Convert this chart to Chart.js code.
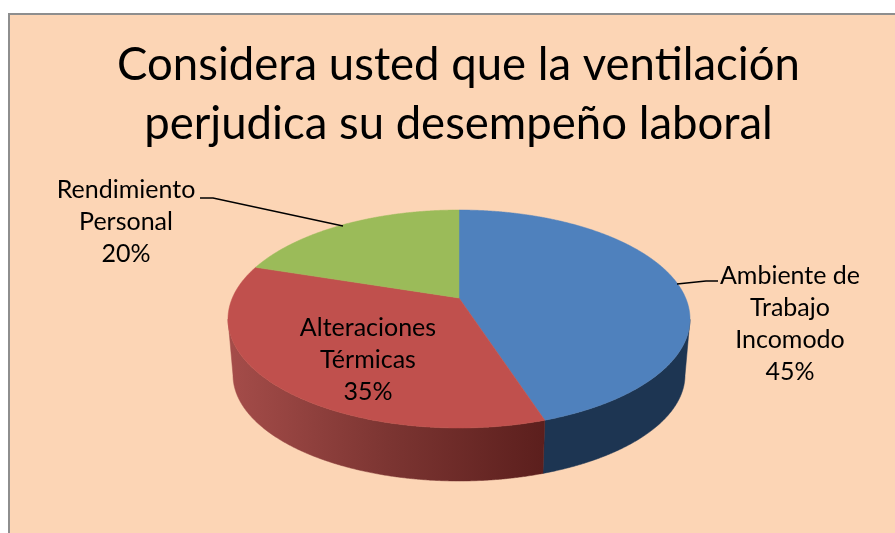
<!DOCTYPE html>
<html><head><meta charset="utf-8">
<style>html,body{margin:0;padding:0;background:#fff}canvas{display:block}</style>
<script src="https://cdn.jsdelivr.net/npm/chart.js@4/dist/chart.umd.js"></script>
</head><body>
<div style="width:895px;height:533px;position:relative"><canvas id="c"></canvas></div>
<script>
const categories = ['Ambiente de Trabajo Incomodo', 'Alteraciones Térmicas', 'Rendimiento Personal'];
const values = [45, 35, 20];
const topColors = ['#4f81bd', '#c0504d', '#9bbb59'];
const titleLines = ['Considera usted que la ventilación', 'perjudica su desempeño laboral'];
const labelLines = [['Ambiente de', 'Trabajo', 'Incomodo'], ['Alteraciones', 'Térmicas'], ['Rendimiento', 'Personal']];
const labelCenters = [[790, 276], [368, 328], [126, 190]];
const leaderLines = [[[677,284],[706,281],[718,281]], null, [[200,198],[213,198],[343,226]]];
const FONT = 'Lato, Carlito, sans-serif';
const TOP = {cx:459, cy:319, rx:231, ry:109};
const BOTTOM = {cx:459, cy:375, rx:226, ry:106};
const TILT = 0.193;

function project(theta, e) {
  const x = Math.cos(theta), y = Math.sin(theta);
  const d = 1 - TILT * y;
  const py = (y - TILT) / d, px = x * Math.sqrt(1 - TILT * TILT) / d;
  return {x: e.cx + px * e.rx, y: e.cy + py * e.ry, py};
}
function sampled(a0, a1) {
  const out = [], n = Math.ceil((a1 - a0) / 0.005);
  for (let i = 0; i <= n; i++) out.push(a0 + (a1 - a0) * i / n);
  return out;
}
function wallFill(ctx, i) {
  if (i === 0) return '#1d3552';
  const g = ctx.createLinearGradient(232, 0, 543, 0);
  g.addColorStop(0, '#a44c49');
  g.addColorStop(0.5, '#7c3532');
  g.addColorStop(1, '#5c1f1d');
  return g;
}
const pie3d = {
  id: 'pie3d',
  beforeDraw(chart) {
    const c = chart.ctx;
    c.save();
    c.fillStyle = '#fff'; c.fillRect(0, 0, 895, 533);
    c.fillStyle = '#fcd5b5'; c.fillRect(8, 13, 887, 520);
    c.fillStyle = '#8e8e8e'; c.fillRect(8, 13, 887, 2); c.fillRect(8, 13, 2, 520);
    c.restore();
  },
  beforeDatasetDraw(chart) {
    const c = chart.ctx, arcs = chart.getDatasetMeta(0).data;
    c.save();
    arcs.forEach((arc, i) => {
      const angles = sampled(arc.startAngle, arc.endAngle).filter(t => project(t, TOP).py >= 0);
      if (angles.length < 2) return;
      c.beginPath();
      angles.forEach((t, k) => { const p = project(t, TOP); k ? c.lineTo(p.x, p.y) : c.moveTo(p.x, p.y); });
      angles.slice().reverse().forEach(t => { const p = project(t, BOTTOM); c.lineTo(p.x, p.y); });
      c.closePath();
      const f = wallFill(c, i);
      c.fillStyle = f; c.strokeStyle = f; c.lineWidth = 0.5;
      c.fill(); c.stroke();
    });
    arcs.forEach(arc => {
      const col = arc.options.backgroundColor;
      const apex = {x: TOP.cx, y: TOP.cy - TILT * TOP.ry};
      c.beginPath();
      c.moveTo(apex.x, apex.y);
      sampled(arc.startAngle, arc.endAngle).forEach(t => { const p = project(t, TOP); c.lineTo(p.x, p.y); });
      c.closePath();
      c.fillStyle = col; c.strokeStyle = col; c.lineWidth = 0.5;
      c.fill(); c.stroke();
    });
    c.restore();
    return false;
  },
  afterDraw(chart) {
    const c = chart.ctx;
    c.save();
    c.strokeStyle = '#000'; c.lineWidth = 1.4;
    leaderLines.forEach(l => {
      if (!l) return;
      c.beginPath();
      l.forEach((p, k) => k ? c.lineTo(p[0], p[1]) : c.moveTo(p[0], p[1]));
      c.stroke();
    });
    c.fillStyle = '#000'; c.font = '25px ' + FONT;
    c.textAlign = 'center'; c.textBaseline = 'middle';
    labelLines.forEach((lines, i) => {
      const [x, y] = labelCenters[i];
      lines.concat(values[i] + '%').forEach((t, k) => c.fillText(t, x, y + k * 32));
    });
    c.restore();
  }
};
new Chart(document.getElementById('c'), {
  type: 'pie',
  data: {labels: categories, datasets: [{data: values, backgroundColor: topColors, borderWidth: 0}]},
  options: {
    responsive: true, maintainAspectRatio: false, animation: false, events: [],
    layout: {padding: {left: 22}},
    plugins: {
      legend: {display: false}, tooltip: {enabled: false},
      title: {display: true, text: titleLines, color: '#000', align: 'center', fullSize: true,
        font: {family: FONT, size: 45.5, weight: 'normal', lineHeight: 1.3}, padding: {top: 36, bottom: 20}}
    }
  },
  plugins: [pie3d]
});
</script>
</body></html>
